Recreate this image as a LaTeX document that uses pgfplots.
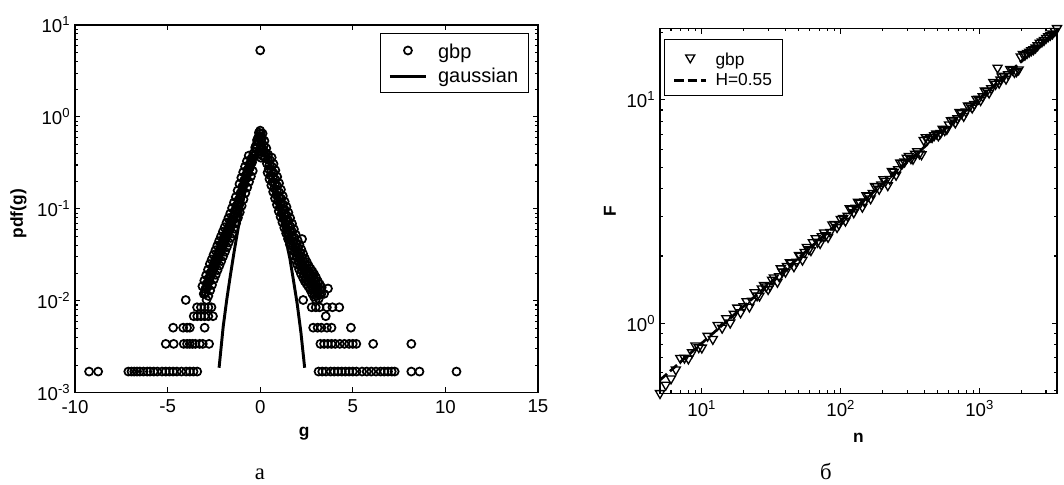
\documentclass[border=0pt]{standalone}
\usepackage{fontspec}
\setmainfont{Liberation Sans}
\newfontfamily\capfont{Liberation Serif}
\usepackage{pgfplots}
\pgfplotsset{compat=1.18}

\pgfplotstableread{
x y
0 5.3
0 0.71
0.03 0.66
-0.02 0.62
0.05 0.57
-0.04 0.53
0.02 0.48
0.07 0.45
-0.06 0.42
0.0 0.40
0.04 0.36
0.1 0.38
-0.1 0.603
-0.07 0.675
-0.14 0.543
-0.2 0.501
-0.17 0.561
-0.24 0.451
-0.3 0.417
-0.27 0.467
-0.34 0.375
-0.4 0.355
-0.37 0.398
-0.44 0.320
-0.5 0.316
-0.47 0.354
-0.54 0.284
-0.6 0.275
-0.57 0.308
-0.64 0.248
-0.7 0.240
-0.67 0.269
-0.74 0.216
-0.8 0.209
-0.77 0.234
-0.84 0.188
-0.9 0.182
-0.87 0.204
-0.94 0.164
-1.0 0.155
-0.97 0.174
-1.04 0.140
-1.1 0.132
-1.07 0.148
-1.14 0.119
-1.2 0.112
-1.17 0.125
-1.24 0.101
-1.3 0.0977
-1.27 0.109
-1.34 0.0879
-1.4 0.0851
-1.37 0.0953
-1.44 0.0766
-1.5 0.0741
-1.47 0.0830
-1.54 0.0667
-1.6 0.0661
-1.57 0.0740
-1.64 0.0595
-1.7 0.0589
-1.67 0.0660
-1.74 0.0530
-1.8 0.0525
-1.77 0.0588
-1.84 0.0473
-1.9 0.0468
-1.87 0.0524
-1.94 0.0421
-2.0 0.0417
-1.97 0.0467
-2.04 0.0375
-2.1 0.0372
-2.07 0.0417
-2.14 0.0335
-2.2 0.0331
-2.17 0.0371
-2.24 0.0298
-2.3 0.0295
-2.27 0.0330
-2.34 0.0266
-2.4 0.0263
-2.37 0.0295
-2.44 0.0237
-2.5 0.0234
-2.47 0.0262
-2.54 0.0211
-2.6 0.0209
-2.57 0.0234
-2.64 0.0188
-2.7 0.0182
-2.67 0.0204
-2.74 0.0164
-2.8 0.0158
-2.77 0.0177
-2.84 0.0142
-2.9 0.0138
-2.87 0.0155
-2.94 0.0124
-3.0 0.0120
-2.97 0.0134
-3.05 0.0119
-0.62 0.379
-0.4 0.259
-0.72 0.330
-0.5 0.226
-0.82 0.288
-0.6 0.197
-0.92 0.251
-0.7 0.171
-1.02 0.218
-0.8 0.149
-1.12 0.186
-0.9 0.127
-1.22 0.158
-1.0 0.108
-1.32 0.134
-1.1 0.092
-1.42 0.117
-1.2 0.0801
-1.52 0.102
-1.3 0.0698
-1.62 0.0889
-1.4 0.0608
-1.72 0.0793
-1.5 0.0542
-1.82 0.0707
-1.6 0.0483
-1.92 0.0630
-1.7 0.0431
-2.02 0.0562
-1.8 0.0384
-2.12 0.0500
-1.9 0.0342
-2.22 0.0446
-2.0 0.0305
-2.32 0.0397
-2.1 0.0271
-2.42 0.0354
-2.2 0.0242
-2.52 0.0316
-2.3 0.0216
-2.62 0.0281
-2.4 0.0192
-2.72 0.0251
-2.5 0.0171
-2.82 0.0218
-2.6 0.0149
-2.92 0.0190
-2.7 0.0130
-3.02 0.0166
-2.8 0.0113
-3.12 0.0144
-2.9 0.0102
0.1 0.589
0.13 0.660
0.06 0.530
0.2 0.490
0.23 0.549
0.16 0.441
0.3 0.407
0.33 0.456
0.26 0.366
0.4 0.347
0.43 0.389
0.36 0.312
0.5 0.302
0.53 0.338
0.46 0.272
0.6 0.257
0.63 0.288
0.56 0.231
0.7 0.219
0.73 0.245
0.66 0.197
0.8 0.186
0.83 0.208
0.76 0.167
0.9 0.158
0.93 0.177
0.86 0.142
1.0 0.135
1.03 0.151
0.96 0.122
1.1 0.115
1.13 0.129
1.06 0.104
1.2 0.100
1.23 0.112
1.16 0.090
1.3 0.0871
1.33 0.0976
1.26 0.0784
1.4 0.0759
1.43 0.0850
1.36 0.0683
1.5 0.0661
1.53 0.0740
1.46 0.0595
1.6 0.0575
1.63 0.0644
1.56 0.0518
1.7 0.0501
1.73 0.0561
1.66 0.0451
1.8 0.0437
1.83 0.0489
1.76 0.0393
1.9 0.0380
1.93 0.0426
1.86 0.0342
2.0 0.0339
2.03 0.0380
1.96 0.0305
2.1 0.0302
2.13 0.0338
2.06 0.0272
2.2 0.0269
2.23 0.0301
2.16 0.0242
2.3 0.0240
2.33 0.0269
2.26 0.0216
2.4 0.0219
2.43 0.0245
2.36 0.0197
2.5 0.0200
2.53 0.0224
2.46 0.0180
2.6 0.0186
2.63 0.0208
2.56 0.0167
2.7 0.0174
2.73 0.0195
2.66 0.0157
2.8 0.0162
2.83 0.0181
2.76 0.0146
2.9 0.0148
2.93 0.0166
2.86 0.0133
3.0 0.0135
3.03 0.0151
2.96 0.0122
3.1 0.0126
3.13 0.0141
3.06 0.0113
3.2 0.0117
3.23 0.0131
3.16 0.0105
0.62 0.362
0.4 0.248
0.72 0.308
0.5 0.211
0.82 0.263
0.6 0.180
0.92 0.223
0.7 0.153
1.02 0.190
0.8 0.130
1.12 0.162
0.9 0.111
1.22 0.138
1.0 0.0943
1.32 0.120
1.1 0.082
1.42 0.105
1.2 0.0714
1.52 0.0911
1.3 0.0622
1.62 0.0793
1.4 0.0542
1.72 0.0690
1.5 0.0472
1.82 0.0601
1.6 0.0411
1.92 0.0524
1.7 0.0358
2.02 0.0456
1.8 0.0312
2.12 0.0407
1.9 0.0278
2.22 0.0362
2.0 0.0248
2.32 0.0323
2.1 0.0221
2.42 0.0288
2.2 0.0197
2.52 0.0263
2.3 0.0180
2.62 0.0240
2.4 0.0164
2.72 0.0223
2.5 0.0153
2.82 0.0209
2.6 0.0143
2.92 0.0194
2.7 0.0133
3.02 0.0178
2.8 0.0121
3.12 0.0162
2.9 0.0111
3.22 0.0151
3.0 0.0103
3.32 0.0140
2.26 0.047
3.66 0.0136
3.3 0.0119
3.45 0.0119
3.1 0.0119
-4.02 0.0102
2.32 0.0102
-3.41 0.0085
-3.2 0.0085
-3.0 0.0085
-2.8 0.0085
-2.63 0.0085
2.78 0.0085
3.0 0.0085
3.2 0.0085
3.6 0.0085
3.9 0.0085
4.27 0.0085
-3.59 0.0068
-3.4 0.0068
-3.2 0.0068
-3.0 0.0068
-2.8 0.0068
-2.55 0.0068
3.54 0.0068
-4.7 0.0051
-4.16 0.0051
-3.95 0.0051
-3.8 0.0051
-3.0 0.0051
2.86 0.0051
3.1 0.0051
3.3 0.0051
3.6 0.0051
3.85 0.0051
4.9 0.0051
-5.1 0.0034
-4.67 0.0034
-4.13 0.0034
-3.95 0.0034
-3.8 0.0034
-3.65 0.0034
-3.5 0.0034
-3.27 0.0034
-3.1 0.0034
-2.76 0.0034
3.25 0.0034
3.45 0.0034
3.65 0.0034
3.85 0.0034
4.05 0.0034
4.3 0.0034
4.55 0.0034
4.8 0.0034
5.0 0.0034
5.19 0.0034
6.1 0.0034
8.16 0.0034
-9.24 0.0017
-8.75 0.0017
-7.12 0.0017
-6.95 0.0017
-6.8 0.0017
-6.65 0.0017
-6.5 0.0017
-6.3 0.0017
-6.1 0.0017
-5.95 0.0017
-5.75 0.0017
-5.55 0.0017
-5.3 0.0017
-5.1 0.0017
-4.9 0.0017
-4.7 0.0017
-4.5 0.0017
-4.25 0.0017
-4.0 0.0017
-3.8 0.0017
-3.6 0.0017
-3.4 0.0017
3.15 0.0017
3.35 0.0017
3.55 0.0017
3.8 0.0017
4.0 0.0017
4.2 0.0017
4.4 0.0017
4.6 0.0017
4.8 0.0017
5.0 0.0017
5.2 0.0017
5.5 0.0017
5.75 0.0017
6.0 0.0017
6.25 0.0017
6.5 0.0017
6.7 0.0017
6.9 0.0017
7.1 0.0017
7.26 0.0017
8.16 0.0017
8.6 0.0017
10.6 0.0017
}\gbpdata

\pgfplotstableread{
x y
-2.22 0.00187
-2.0 0.0052
-1.8 0.0105
-1.6 0.0195
-1.4 0.035
-1.2 0.060
-1.0 0.10
-0.8 0.165
-0.6 0.245
-0.4 0.33
-0.2 0.42
0.0 0.50
0.1 0.52
0.2 0.50
0.4 0.40
0.6 0.28
0.8 0.175
1.0 0.105
1.2 0.070
1.4 0.045
1.6 0.029
1.8 0.0165
2.0 0.0092
2.2 0.0045
2.4 0.00187
}\gaussdata

\pgfplotstableread{
n F
5 0.486
5.5 0.53
6 0.565
6.5 0.62
7 0.698
7.5 0.70
8 0.694
8.5 0.74
9 0.794
9.5 0.78
10 0.777
11 0.877
12 0.849
13 0.981
14 0.953
15 1.051
16 1.005
17 1.10
18 1.173
19 1.117
20 1.19
21 1.252
22 1.185
23 1.26
24 1.374
25 1.33
26 1.327
27 1.43
28 1.482
29 1.46
30 1.420
31 1.47
32 1.565
33 1.60
35 1.530
36 1.62
37 1.759
38 1.70
40 1.698
41 1.80
43 1.874
44 1.86
46 1.795
48 1.88
50 2.017
51 2.00
53 1.921
55 2.08
57 2.191
59 2.14
61 2.120
63 2.30
66 2.399
68 2.31
71 2.281
73 2.45
76 2.544
78 2.47
81 2.429
84 2.56
87 2.765
90 2.78
94 2.689
97 2.77
100 2.926
104 2.95
108 2.872
112 3.02
116 3.267
120 3.24
124 3.131
128 3.28
133 3.490
138 3.45
143 3.316
148 3.50
153 3.735
158 3.72
164 3.614
170 3.82
176 4.112
182 4.10
189 3.989
196 4.17
203 4.403
210 4.33
218 4.139
225 4.42
233 4.796
241 4.76
250 4.607
259 4.88
268 5.229
278 5.20
288 5.283
298 5.50
309 5.601
320 5.47
331 5.433
343 5.72
355 5.877
368 5.74
381 5.692
395 6.6
409 6.793
423 6.65
438 6.795
454 6.80
470 6.931
487 7.05
504 6.914
522 7.10
541 7.404
560 7.30
580 7.396
601 7.75
622 8.083
644 8.10
667 7.903
691 8.25
715 8.807
741 8.70
767 8.454
795 8.85
823 9.410
853 9.40
883 9.216
915 9.55
947 10.08
980 10.1
1015 9.95
1051 10.35
1089 10.98
1128 10.95
1168 10.75
1210 11.25
1253 11.99
1300 11.75
1344 13.9
1380 11.9
1410 12.3
1441 12.69
1493 12.8
1546 12.41
1600 13.0
1658 13.72
1717 13.6
1778 13.29
1840 13.4
1907 13.65
1975 15.6
2045 16.01
2118 15.9
2193 16.17
2272 16.4
2352 16.62
2436 16.8
2523 17.10
2613 17.5
2706 17.96
2802 18.2
2902 18.49
3006 18.9
3112 19.21
3223 19.5
3338 19.76
3469 20.3
3600 20.9
}\dfadata

\pgfplotstableread{
n F
5 0.557
3600 20.5
}\fitdata

\pgfplotsset{
  mystyle/.style={
    scale only axis,
    anchor=south west,
    clip=false,
    tick align=inside,
    major tick length=4pt,
    minor tick length=2.2pt,
    axis line style={line width=0.9pt},
    every tick/.style={black, line width=0.8pt},
    tick label style={font=\fontsize{14}{16}\selectfont},
    xticklabel style={yshift=-2pt},
    label style={font=\fontsize{13}{15}\selectfont\bfseries},
    legend cell align=left,
  },
  legmarkA/.style={legend image code/.code={\draw[##1,only marks,mark repeat=2,mark phase=2] plot coordinates {(0pt,0pt) (13.5pt,0pt) (27pt,0pt)};}},
  leglineA/.style={legend image code/.code={\draw[##1] (0pt,0pt) -- (27pt,0pt);}},
  legmarkB/.style={legend image code/.code={\draw[##1,only marks,mark repeat=2,mark phase=2] plot coordinates {(0pt,0pt) (12pt,0pt) (24pt,0pt)};}},
  leglineB/.style={legend image code/.code={\draw[##1] (0pt,0pt) -- (24pt,0pt);}},
}

\begin{document}
\begin{tikzpicture}
\useasboundingbox (0,0) rectangle (798pt,363.75pt);

\begin{axis}[mystyle,
  at={(56.25pt,69.2pt)},
  width=347.25pt, height=275.8pt,
  xmin=-10, xmax=15,
  ymode=log, ymin=1e-3, ymax=10,
  xtick={-10,-5,0,5,10,15},
  xticklabels={-10,-5,0,5,10,15},
  ytick={0.001,0.01,0.1,1,10},
  yticklabels={10\textsuperscript{-3},10\textsuperscript{-2},10\textsuperscript{-1},10\textsuperscript{0},10\textsuperscript{1}},
  minor ytick={0.002,0.003,0.004,0.005,0.006,0.007,0.008,0.009,0.02,0.03,0.04,0.05,0.06,0.07,0.08,0.09,0.2,0.3,0.4,0.5,0.6,0.7,0.8,0.9,2,3,4,5,6,7,8,9},
  xlabel={g}, ylabel={pdf(g)},
  xlabel style={at={(axis description cs:0.495,-0.112)}, anchor=center},
  ylabel style={at={(axis description cs:-0.122,0.487)}, anchor=center},
  legend style={at={(0.981,0.978)}, anchor=north east, draw=black, line width=0.6pt,
    font=\fontsize{15}{17}\selectfont, inner xsep=6pt, inner ysep=4.5pt, row sep=4pt,
    nodes={inner ysep=1pt}},
]
\addplot[only marks, mark=o, mark size=3.0pt, mark options={line width=1.3pt}, black, legmarkA]
  table[x=x,y=y] {\gbpdata};
\addlegendentry{\rule{0pt}{13pt}\hspace{6pt}gbp}
\addplot[black, line width=2.2pt, no marks, leglineA]
  table[x=x,y=y] {\gaussdata};
\addlegendentry{\hspace{6pt}gaussian}
\end{axis}

\begin{axis}[mystyle,
  at={(495pt,68.8pt)},
  width=297.75pt, height=273.75pt,
  xmode=log, ymode=log,
  xmin=5, xmax=3600, ymin=0.486, ymax=20.9,
  xtick={10,100,1000},
  xticklabels={10\textsuperscript{1},10\textsuperscript{2},10\textsuperscript{3}},
  minor xtick={6,7,8,9,20,30,40,50,60,70,80,90,200,300,400,500,600,700,800,900,2000,3000},
  ytick={1,10},
  yticklabels={10\textsuperscript{0},10\textsuperscript{1}},
  minor ytick={0.5,0.6,0.7,0.8,0.9,2,3,4,5,6,7,8,9,20},
  xlabel={n}, ylabel={F},
  xlabel style={at={(axis description cs:0.5,-0.122)}, anchor=center},
  ylabel style={at={(axis description cs:-0.126,0.5)}, anchor=center},
  legend style={at={(0.0113,0.97)}, anchor=north west, draw=black, line width=0.6pt,
    font=\fontsize{13}{15}\selectfont, inner xsep=6pt, inner ysep=5pt, row sep=2.5pt,
    nodes={inner ysep=1pt}},
]
\addplot[only marks, mark=triangle, mark size=3.9pt, mark options={rotate=180, line width=1pt}, black, legmarkB]
  table[x=n,y=F] {\dfadata};
\addlegendentry{\rule{0pt}{13.5pt}\hspace{4pt}gbp}
\addplot[black, line width=2pt, dash pattern=on 7pt off 3pt, no marks, leglineB]
  table[x=n,y=F] {\fitdata};
\addlegendentry{\hspace{4pt}H=0.55}
\end{axis}

\node[font=\capfont\fontsize{17}{20}\selectfont, anchor=base] at (195pt,3.75pt) {а};
\node[font=\capfont\fontsize{17}{20}\selectfont, anchor=base] at (619.5pt,3.75pt) {б};
\end{tikzpicture}
\end{document}
